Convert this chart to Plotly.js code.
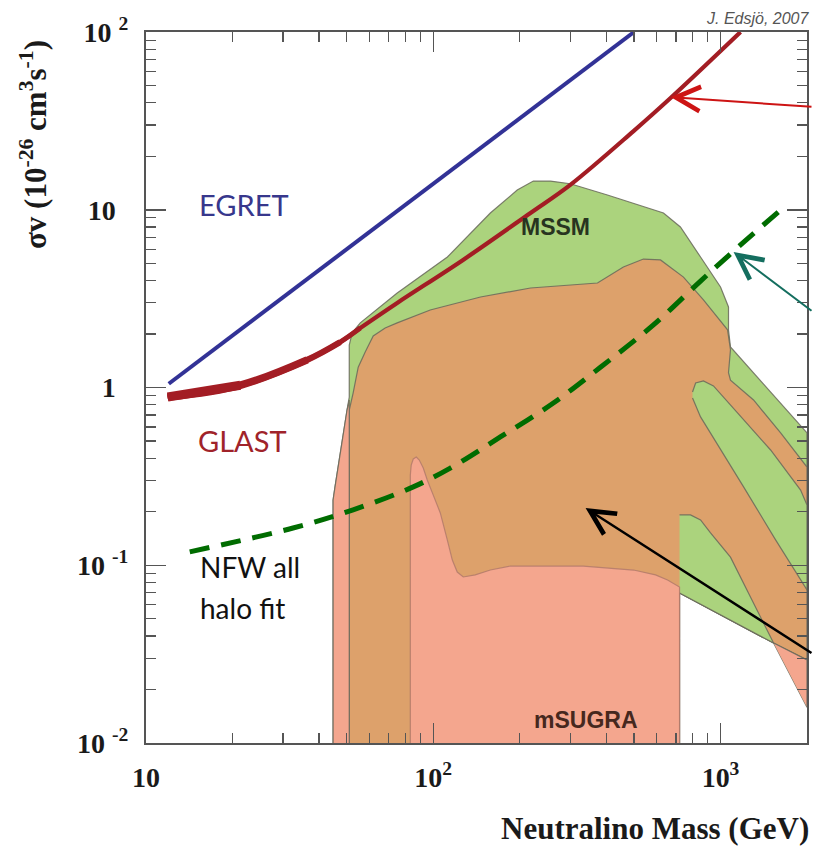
<!DOCTYPE html>
<html>
<head>
<meta charset="utf-8">
<script src="https://cdn.plot.ly/plotly-3.0.1.min.js"></script>
<style>
  html, body { margin: 0; padding: 0; background: #ffffff; }
  #chart { width: 813px; height: 847px; }
</style>
</head>
<body>
<div id="chart"></div>
<script>
// Neutralino annihilation cross-section σv versus neutralino mass (log-log)

// EGRET-derived curve
const egretMass = [12, 500];
const egretSigmaV = [1.05, 100];

// GLAST sensitivity curve
const glastMass = [11.9, 21.3, 36.4, 47.4, 55.7, 74.9, 127, 218, 300, 498, 670, 1174];
const glastSigmaV = [0.884, 1.03, 1.43, 1.80, 2.16, 2.99, 5.22, 9.59, 13.8, 27.7, 42.5, 100];

// NFW all-halo fit (dashed)
const nfwMass = [14.2, 32.5, 52.6, 85.2, 114.6, 171.2, 261.9, 381.9, 584, 852, 1174, 1619];
const nfwSigmaV = [0.119, 0.162, 0.205, 0.276, 0.352, 0.527, 0.818, 1.30, 2.25, 3.97, 6.34, 9.97];

// MSSM scan, outer envelope
const mssmMass = [44.8, 44.8, 45.5, 46.7, 48.6, 50.1, 51.0, 51.0, 52.2, 55.7, 74.9, 112, 158, 196, 223, 256,
                  300, 404, 633, 725, 852, 1000, 1066, 1066, 1083, 1303, 1619, 2000, 2000, 1530, 720, 720];
const mssmSigmaV = [0.01, 0.233, 0.276, 0.366, 0.555, 0.747, 0.884, 1.73, 2.03, 2.31, 3.40, 5.42, 9.59, 12.9, 14.5, 14.5,
                    14.0, 12.1, 9.59, 8.0, 5.42, 3.68, 2.84, 2.11, 1.69, 1.21, 0.818, 0.555, 0.0159, 0.0365, 0.0698, 0.01];

// Region where the MSSM and mSUGRA scans overlap
const overlapMass = [51.0, 51.0, 52.6, 54.8, 57.9, 61.8, 68.0, 74.9, 97.6, 146, 218, 373, 459, 539, 618, 743,
                     872, 1058, 1083, 1066, 1083, 1303, 1619, 2000, 2000, 1530, 720, 720];
const overlapSigmaV = [0.01, 0.747, 0.931, 1.30, 1.58, 1.95, 2.16, 2.31, 2.73, 3.23, 3.63, 3.87, 4.76, 5.28, 5.22, 4.18,
                       3.11, 2.11, 1.63, 1.21, 1.10, 0.851, 0.555, 0.357, 0.0293, 0.0365, 0.0698, 0.01];

// MSSM-only tongue at high mass
const tongueMass = [799, 819, 872, 945, 1146, 1494, 1900, 2000, 2000, 1555, 1203, 1000, 852, 799];
const tongueSigmaV = [0.943, 1.06, 1.088, 1.02, 0.719, 0.445, 0.265, 0.218, 0.0726, 0.139, 0.276, 0.445, 0.683, 0.873];

// MSSM-only island above the mSUGRA cut-off
const islandMass = [720, 786, 852, 923, 1083, 1303, 1530, 720];
const islandSigmaV = [0.192, 0.192, 0.180, 0.152, 0.111, 0.0613, 0.0365, 0.0698];

// mSUGRA-only pieces
const sugraStripMass = [44.8, 44.8, 45.5, 46.7, 48.6, 50.1, 51.0, 51.0];
const sugraStripSigmaV = [0.01, 0.233, 0.276, 0.366, 0.555, 0.747, 0.85, 0.01];

const sugraMainMass = [83.2, 83.2, 83.8, 85.2, 87.3, 89.4, 92.3, 95.3, 100, 105.8, 111.9, 116.5, 121.2, 127.2,
                       140, 158, 185.5, 333, 498, 594, 654, 720, 720];
const sugraMainSigmaV = [0.01, 0.322, 0.366, 0.396, 0.406, 0.391, 0.352, 0.302, 0.248, 0.197, 0.139, 0.107, 0.0916, 0.0859,
                         0.0882, 0.094, 0.099, 0.099, 0.094, 0.0882, 0.0826, 0.0754, 0.01];

const sugraTailMass = [1530, 2000, 2000];
const sugraTailSigmaV = [0.0365, 0.0293, 0.0159];

// Arrow heads (mass, σv) pointing at curves / regions
const redArrowHead = [670, 43.1];
const tealArrowHead = [1110, 5.79];
const blackArrowHead = [339, 0.21];

// Axis ticks
const xTickVals = [10, 100, 1000];
const xTickText = ['10', '10<sup>2</sup>', '10<sup>3</sup>'];
const yTickVals = [0.01, 0.1, 1, 10, 100];
const NB = '\u00a0';
const THIN = '\u2009';
const yTickText = ['10' + NB + '<sup>-2</sup>', '10' + NB + '<sup>-1</sup>', '1' + NB + THIN,
                   '10' + NB + THIN, '10' + NB + '<sup>2</sup>'];

function minorTicks(lo, hi) {
  const out = [];
  for (let d = lo; d < hi; d *= 10) {
    for (let k = 2; k <= 9; k++) out.push(k * d);
  }
  return out;
}

const GREEN = 'rgb(171,211,125)';
const ORANGE = 'rgb(221,161,107)';
const SALMON = 'rgb(244,166,142)';
const EDGE = 'rgba(105,105,90,0.85)';
const SALMON_EDGE = 'rgba(175,120,105,0.8)';

function region(x, y, fill, edge) {
  return { type: 'scatter', mode: 'lines', x: x, y: y, fill: 'toself', fillcolor: fill,
           line: { color: edge, width: 1.2 }, hoverinfo: 'skip', showlegend: false };
}
function curve(x, y, color, width, dash) {
  return { type: 'scatter', mode: 'lines', x: x, y: y,
           line: { color: color, width: width, dash: dash || 'solid', shape: 'spline', smoothing: 1 },
           hoverinfo: 'skip', showlegend: false };
}

const GLAST_RED = 'rgb(163,29,36)';

const traces = [
  region(mssmMass, mssmSigmaV, GREEN, EDGE),
  region(overlapMass, overlapSigmaV, ORANGE, EDGE),
  region(tongueMass, tongueSigmaV, GREEN, EDGE),
  region(islandMass, islandSigmaV, GREEN, EDGE),
  region(sugraStripMass, sugraStripSigmaV, SALMON, EDGE),
  region(sugraMainMass, sugraMainSigmaV, SALMON, SALMON_EDGE),
  region(sugraTailMass, sugraTailSigmaV, SALMON, EDGE),
  curve(nfwMass, nfwSigmaV, 'rgb(0,108,0)', 5, '20px,12px'),
  curve(egretMass, egretSigmaV, 'rgb(50,50,150)', 4),
  // GLAST band is wider at low mass: overlay progressively shorter, thicker pieces
  curve(glastMass, glastSigmaV, GLAST_RED, 4.2),
  curve(glastMass.slice(0, 5), glastSigmaV.slice(0, 5), GLAST_RED, 5),
  curve(glastMass.slice(0, 4), glastSigmaV.slice(0, 4), GLAST_RED, 6.2),
  curve(glastMass.slice(0, 3), glastSigmaV.slice(0, 3), GLAST_RED, 7.6),
  curve(glastMass.slice(0, 2), glastSigmaV.slice(0, 2), GLAST_RED, 9)
];

const L = 146, R = 807, T = 32, B = 743;
const W = R - L, H = B - T;
function px(xp) { return (xp - L) / W; }
function py(yp) { return (B - yp) / H; }

const labelFont = 'Lato, "Open Sans", sans-serif';
const serif = '"Liberation Serif", "Times New Roman", serif';

function arrow(head, ax, ay, color, width, size) {
  return { x: Math.log10(head[0]), y: Math.log10(head[1]), xref: 'x', yref: 'y',
           text: '', showarrow: true, ax: ax, ay: ay, arrowcolor: color,
           arrowwidth: width, arrowhead: 5, arrowsize: size, standoff: 0 };
}

const annotations = [
  { text: 'EGRET', x: px(197), y: py(205), xref: 'paper', yref: 'paper', xanchor: 'left', yanchor: 'middle',
    showarrow: false, font: { family: labelFont, size: 29, color: 'rgb(55,55,140)' } },
  { text: 'GLAST', x: px(196), y: py(440), xref: 'paper', yref: 'paper', xanchor: 'left', yanchor: 'middle',
    showarrow: false, font: { family: labelFont, size: 29, color: 'rgb(160,35,42)' } },
  { text: 'NFW all', x: px(198), y: py(567), xref: 'paper', yref: 'paper', xanchor: 'left', yanchor: 'middle',
    showarrow: false, font: { family: labelFont, size: 28, color: '#111111' } },
  { text: 'halo fit', x: px(198), y: py(608), xref: 'paper', yref: 'paper', xanchor: 'left', yanchor: 'middle',
    showarrow: false, font: { family: labelFont, size: 28, color: '#111111' } },
  { text: '<b>MSSM</b>', x: px(555), y: py(227), xref: 'paper', yref: 'paper', xanchor: 'center', yanchor: 'middle',
    showarrow: false, font: { family: '"Liberation Sans", Arial, sans-serif', size: 23, color: 'rgb(40,52,32)' } },
  { text: '<b>mSUGRA</b>', x: px(586), y: py(720), xref: 'paper', yref: 'paper', xanchor: 'center', yanchor: 'middle',
    showarrow: false, font: { family: '"Liberation Sans", Arial, sans-serif', size: 23, color: 'rgb(70,40,30)' } },
  { text: '<i>J. Edsjö, 2007</i>', x: px(812), y: py(19), xref: 'paper', yref: 'paper', xanchor: 'right', yanchor: 'middle',
    showarrow: false, font: { family: '"Liberation Sans", Arial, sans-serif', size: 16, color: '#555555' } },
  { text: '<b>Neutralino Mass (GeV)</b>', x: px(811), y: py(828), xref: 'paper', yref: 'paper', xanchor: 'right', yanchor: 'middle',
    showarrow: false, font: { family: serif, size: 31, color: '#1a1a1a' } },
  { text: '<b>σv (10<sup>-26</sup> cm<sup>3</sup>s<sup>-1</sup>)</b>', x: px(33), y: py(145), xref: 'paper', yref: 'paper',
    xanchor: 'center', yanchor: 'middle', textangle: -90,
    showarrow: false, font: { family: serif, size: 31, color: '#1a1a1a' } },
  arrow(redArrowHead, 180, 10, 'rgb(205,20,20)', 2, 2.4),
  arrow(tealArrowHead, 120, 60, 'rgb(20,110,95)', 2, 2.4),
  arrow(blackArrowHead, 260, 146, '#000000', 2.4, 2.0)
];

const axisCommon = {
  type: 'log', showgrid: false, zeroline: false,
  showline: true, linecolor: '#555555', linewidth: 2, mirror: 'ticks',
  ticks: 'inside', ticklen: 20, tickwidth: 1.5, tickcolor: '#555555',
  tickmode: 'array',
  tickfont: { family: serif, size: 28, color: '#1a1a1a', weight: 'bold' }
};

const layout = {
  width: 813, height: 847,
  margin: { l: L, r: 813 - R, t: T, b: 847 - B, pad: 0 },
  paper_bgcolor: '#ffffff', plot_bgcolor: '#ffffff',
  showlegend: false,
  xaxis: Object.assign({}, axisCommon, {
    range: [1, Math.log10(2000)],
    tickvals: xTickVals, ticktext: xTickText, ticklabelstandoff: 8,
    minor: { ticks: 'inside', ticklen: 10, tickwidth: 1.2, tickcolor: '#555555', showgrid: false,
             tickmode: 'array', tickvals: minorTicks(10, 2000) }
  }),
  yaxis: Object.assign({}, axisCommon, {
    range: [-2, 2],
    tickvals: yTickVals, ticktext: yTickText, ticklabelstandoff: 10,
    minor: { ticks: 'inside', ticklen: 10, tickwidth: 1.2, tickcolor: '#555555', showgrid: false,
             tickmode: 'array', tickvals: minorTicks(0.01, 100) }
  }),
  annotations: annotations
};

Plotly.newPlot('chart', traces, layout, { staticPlot: true, displayModeBar: false });
</script>
</body>
</html>
